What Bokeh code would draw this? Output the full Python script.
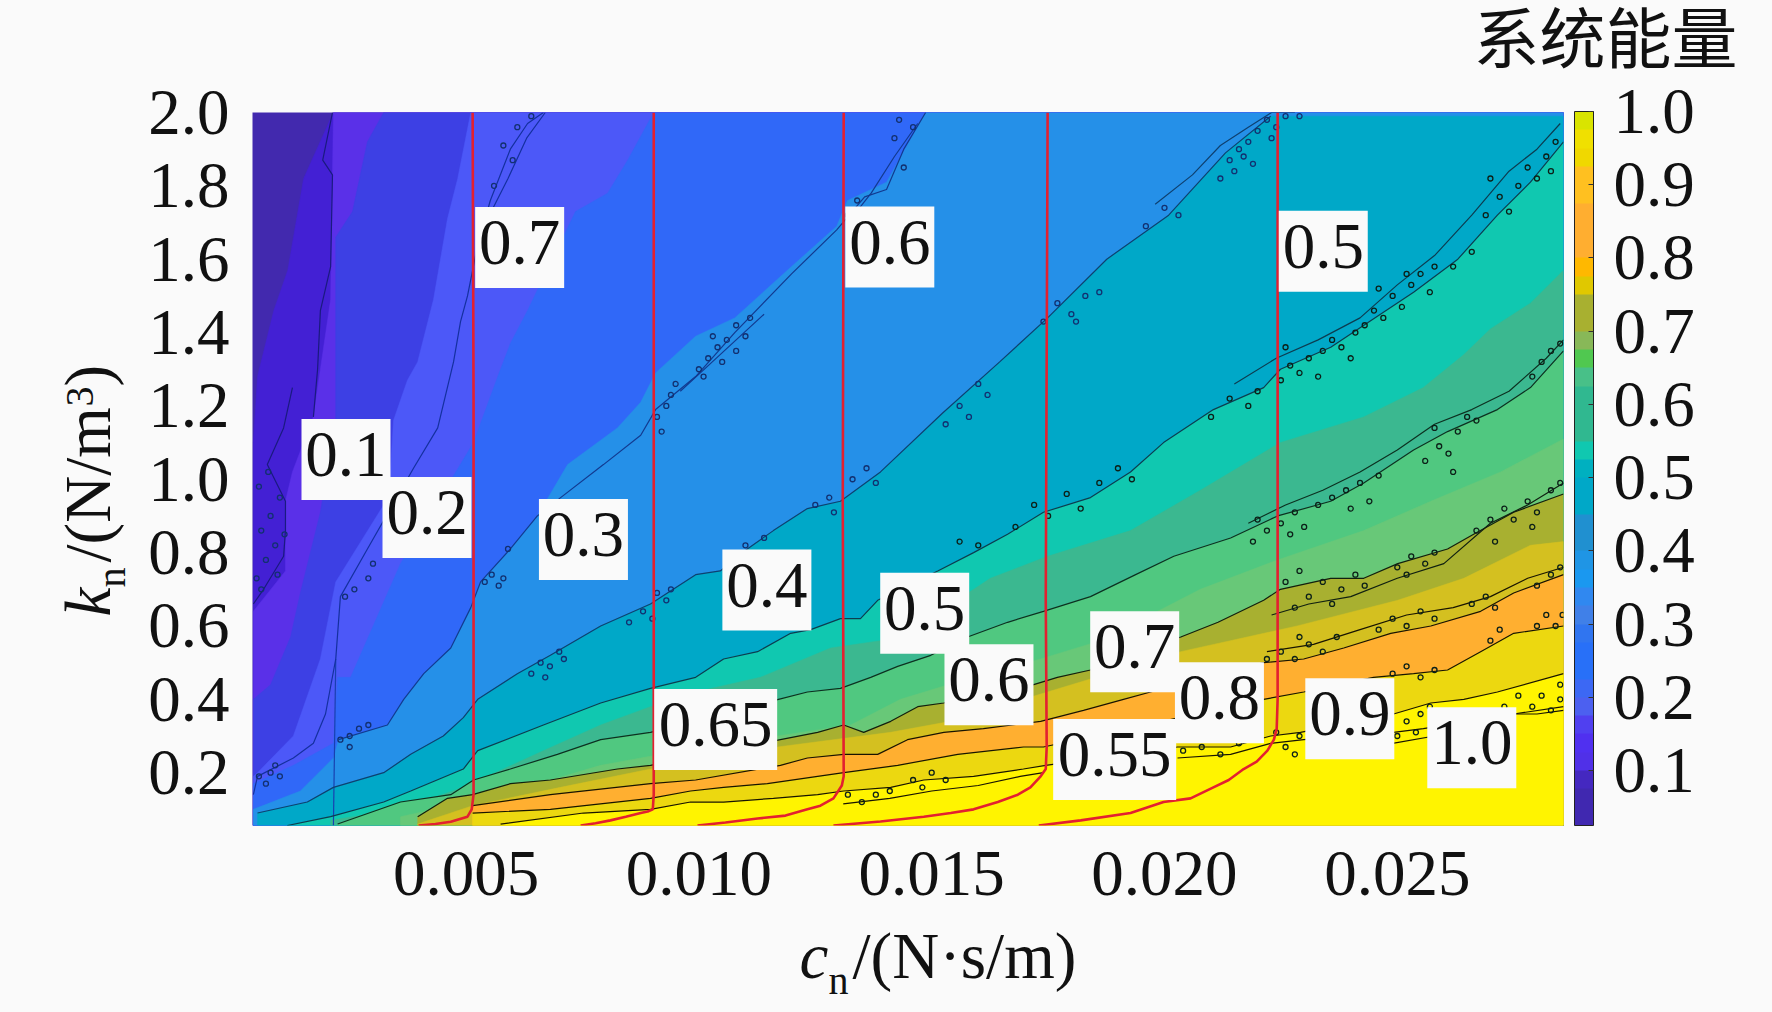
import numpy as np
from bokeh.core.properties import value
from bokeh.embed import file_html
from bokeh.models import ColorBar, FixedTicker, LinearColorMapper, NumeralTickFormatter, Range1d, Title
from bokeh.plotting import figure
from bokeh.resources import INLINE

# all cn values are given in units of 0.001 N*s/m
X_MIN, X_MAX = 0.412, 28.57
Y_MIN, Y_MAX = 0.056, 2.0
x_ticks = [5, 10, 15, 20, 25]
y_ticks = [0.2, 0.4, 0.6, 0.8, 1.0, 1.2, 1.4, 1.6, 1.8, 2.0]
cb_ticks = [0.1, 0.2, 0.3, 0.4, 0.5, 0.6, 0.7, 0.8, 0.9, 1.0]

# colour bar, from 0.025 to 1.0 in steps of 0.025
cb_colors = ["#4028b0", "#4028b0", "#4428c0", "#5030e8", "#5030f0", "#5040f0", "#4c60f0", "#3c68f4",
             "#2870f8", "#2870f8", "#3075f0", "#4080e8", "#3088f0", "#1a98f0", "#1f95e5", "#2090d0",
             "#2090d0", "#00a8c8", "#00a8c8", "#00b0c0", "#10c8b0", "#30b890", "#30b890", "#30b890",
             "#48c088", "#50c850", "#88b858", "#a8b030", "#a8b030", "#e0c800", "#ffb800", "#ffae30",
             "#ffae30", "#ffae30", "#ffc020", "#ffc020", "#f0d800", "#f0e000", "#d9e400"]

# contour lines
c_a1_x = [2.13, 1.92, 2.13, 2.09, 1.87, 1.81, 1.72]
c_a1_y = [2.0, 1.87, 1.83, 1.58, 1.46, 1.30, 1.17]
c_a2_x = [1.27, 1.08, 0.73, 1.12, 1.12, 1.08, 0.65, 0.43]
c_a2_y = [1.25, 1.14, 1.04, 0.94, 0.86, 0.79, 0.70, 0.66]
c_seam_x = [2.20, 2.15]
c_seam_y = [0.51, 0.056]
c_b_x = [0.43, 0.52, 1.29, 1.72, 1.98, 2.20, 2.30, 2.88, 3.87, 4.39, 4.73, 4.88, 5.03, 5.25, 5.52, 5.95, 6.32, 6.66]
c_b_y = [0.14, 0.19, 0.24, 0.28, 0.36, 0.51, 0.68, 0.81, 1.03, 1.14, 1.32, 1.43, 1.50, 1.64, 1.76, 1.90, 1.97, 2.0]
c_c_x = [2.26, 3.31, 3.66, 4.09, 4.67, 5.10, 5.31, 5.95, 6.53, 7.03, 7.95, 8.75, 9.07, 9.93, 10.77, 11.99, 12.96, 13.56, 14.03, 14.40, 14.87]
c_c_y = [0.29, 0.33, 0.40, 0.47, 0.54, 0.65, 0.72, 0.81, 0.90, 0.95, 1.04, 1.12, 1.19, 1.28, 1.40, 1.56, 1.68, 1.77, 1.79, 1.90, 2.0]
c_4_x = [0.52, 1.59, 2.15, 3.23, 3.81, 4.51, 4.94, 5.25, 6.10, 6.81, 7.89, 8.96, 9.93, 10.46, 11.04, 11.60, 12.33, 13.04, 13.90, 15.23, 16.46, 17.49, 18.76, 20.09, 21.31, 22.28]
c_4_y = [0.09, 0.12, 0.16, 0.20, 0.25, 0.30, 0.35, 0.40, 0.47, 0.52, 0.60, 0.66, 0.74, 0.75, 0.81, 0.86, 0.92, 0.94, 1.02, 1.18, 1.32, 1.44, 1.60, 1.72, 1.89, 1.99]
c_5_x = [1.16, 2.09, 3.23, 3.81, 4.94, 5.25, 6.66, 7.89, 8.96, 9.93, 10.53, 11.26, 11.97, 12.40, 13.04, 13.47, 13.84, 15.13, 15.90, 16.63, 17.40, 18.41, 19.27, 19.98, 21.05, 22.13, 22.49, 23.57, 25.35, 26.30, 27.15, 27.86, 28.57]
c_5_y = [0.056, 0.08, 0.12, 0.15, 0.21, 0.26, 0.33, 0.39, 0.43, 0.46, 0.51, 0.53, 0.58, 0.59, 0.62, 0.62, 0.67, 0.75, 0.80, 0.85, 0.91, 0.95, 1.02, 1.10, 1.19, 1.25, 1.30, 1.36, 1.51, 1.60, 1.72, 1.81, 1.92]
c_6_x = [2.24, 3.59, 4.67, 5.16, 5.95, 6.96, 7.89, 8.96, 11.71, 12.33, 13.04, 13.69, 14.27, 14.98, 15.77, 16.63, 17.40, 18.41, 19.38, 20.20, 21.42, 22.43, 23.57, 24.28, 25.35, 26.08, 27.15, 27.86, 28.57]
c_6_y = [0.06, 0.12, 0.14, 0.18, 0.21, 0.25, 0.29, 0.31, 0.40, 0.42, 0.43, 0.46, 0.49, 0.52, 0.57, 0.61, 0.64, 0.68, 0.74, 0.79, 0.84, 0.90, 0.94, 0.99, 1.08, 1.13, 1.19, 1.25, 1.35]
c_7_x = [3.96, 4.60, 5.14, 5.95, 6.81, 8.25, 8.96, 11.75, 12.55, 13.11, 13.54, 14.12, 14.70, 15.26, 17.19, 17.70, 18.41, 20.35, 21.15, 22.13, 22.49, 23.57, 24.28, 25.01, 26.08, 26.64, 27.50, 28.57]
c_7_y = [0.08, 0.13, 0.14, 0.17, 0.18, 0.21, 0.22, 0.29, 0.31, 0.33, 0.31, 0.34, 0.38, 0.39, 0.44, 0.46, 0.48, 0.57, 0.61, 0.67, 0.70, 0.73, 0.73, 0.77, 0.81, 0.85, 0.91, 0.96]
c_8_x = [5.14, 6.81, 8.96, 9.93, 11.75, 12.33, 13.11, 13.84, 14.48, 15.26, 16.11, 17.34, 18.26, 19.12, 19.70, 22.13, 22.99, 23.85, 24.86, 25.72, 26.79, 27.50, 28.57]
c_8_y = [0.11, 0.14, 0.17, 0.18, 0.22, 0.24, 0.25, 0.25, 0.29, 0.31, 0.32, 0.34, 0.37, 0.40, 0.42, 0.50, 0.51, 0.54, 0.58, 0.60, 0.64, 0.69, 0.74]
c_9_x = [5.14, 6.81, 8.96, 9.82, 10.53, 11.47, 12.55, 13.11, 14.27, 15.56, 16.97, 17.40, 22.13, 22.99, 24.49, 25.35, 26.08, 26.79, 27.50, 28.57]
c_9_y = [0.09, 0.10, 0.13, 0.15, 0.16, 0.17, 0.19, 0.20, 0.22, 0.25, 0.27, 0.27, 0.40, 0.42, 0.46, 0.47, 0.48, 0.53, 0.58, 0.60]
c_10_x = [5.74, 7.52, 8.96, 9.82, 10.53, 11.60, 12.55, 13.11, 14.12, 14.83, 15.90, 16.97, 17.45, 20.28, 21.42, 22.28, 22.92, 24.92, 25.72, 26.43, 27.15, 28.57]
c_10_y = [0.06, 0.09, 0.10, 0.12, 0.12, 0.13, 0.14, 0.15, 0.16, 0.18, 0.19, 0.21, 0.22, 0.27, 0.27, 0.30, 0.31, 0.36, 0.39, 0.40, 0.42, 0.47]
c_11_x = [20.28, 21.42, 22.28, 22.99, 24.92, 25.56, 27.50, 28.57]
c_11_y = [0.24, 0.25, 0.28, 0.29, 0.31, 0.32, 0.36, 0.38]

# second strands that run beside the noisy stretches of the contours
s_1_x = [21.5, 22.4, 23.3, 24.2, 25.0, 25.8, 26.6, 27.4, 28.0, 28.5]
s_1_y = [1.26, 1.33, 1.38, 1.44, 1.53, 1.61, 1.72, 1.84, 1.90, 1.97]
s_2_x = [19.8, 20.6, 21.2, 21.8, 22.3, 22.8]
s_2_y = [1.75, 1.83, 1.91, 1.96, 2.0, 2.0]
s_3_x = [21.8, 22.6, 23.4, 24.2, 25.0, 25.8, 26.6, 27.4, 28.2, 28.57]
s_3_y = [0.88, 0.93, 0.97, 1.02, 1.08, 1.15, 1.19, 1.24, 1.33, 1.38]
s_4_x = [22.3, 23.1, 24.0, 25.0, 26.0, 27.0, 27.8, 28.57]
s_4_y = [0.63, 0.66, 0.68, 0.73, 0.77, 0.88, 0.93, 0.99]
s_5_x = [22.2, 23.2, 24.2, 25.2, 26.2, 27.0, 27.8, 28.57]
s_5_y = [0.53, 0.55, 0.59, 0.63, 0.65, 0.68, 0.73, 0.76]
s_6_x = [24.9, 25.8, 26.8, 27.5, 28.0, 28.57]
s_6_y = [0.28, 0.30, 0.34, 0.36, 0.36, 0.37]
s_7_x = [5.5, 5.9, 6.3, 6.7]
s_7_y = [1.72, 1.82, 1.93, 2.0]
s_8_x = [9.6, 10.2, 10.8, 11.4]
s_8_y = [1.24, 1.31, 1.38, 1.45]
s_9_x = [13.2, 13.7, 14.2, 14.7]
s_9_y = [1.70, 1.78, 1.88, 1.97]
s_10_x = [13.1, 14.1, 15.0, 16.0, 16.9, 17.4]
s_10_y = [0.115, 0.13, 0.15, 0.165, 0.19, 0.20]

# boundaries of the colour bands that do not coincide with a contour line
f_1_x = [0.43, 0.52, 0.87, 1.17, 1.51, 2.15]
f_1_y = [1.10, 1.28, 1.46, 1.57, 1.82, 2.0]
f_2_x = [0.43, 1.12, 1.12, 1.27, 1.72, 2.09, 2.15]
f_2_y = [0.64, 0.75, 0.94, 1.02, 1.17, 1.49, 2.0]
f_3_x = [0.43, 0.80, 1.23, 1.44, 1.87, 2.20, 2.20, 2.56, 2.88, 3.23]
f_3_y = [0.40, 0.44, 0.57, 0.69, 0.91, 1.16, 1.66, 1.73, 1.92, 2.0]
f_4_x = [0.43, 0.52, 1.29, 1.87, 2.20, 3.23, 3.38, 3.44, 3.74, 3.96, 4.30, 4.60, 4.82, 5.10]
f_4_y = [0.19, 0.20, 0.30, 0.51, 0.72, 0.93, 1.03, 1.16, 1.27, 1.32, 1.49, 1.71, 1.82, 2.0]
f_5_x = [0.43, 1.29, 2.15, 2.24, 2.52, 3.59, 5.16, 5.68, 5.95, 6.32, 6.66, 7.35, 8.04, 8.47, 9.03]
f_5_y = [0.17, 0.22, 0.28, 0.46, 0.46, 0.77, 1.10, 1.28, 1.37, 1.46, 1.55, 1.73, 1.78, 1.87, 2.0]
f_6_x = [0.43, 1.44, 2.15, 2.26, 3.31, 3.66, 4.09, 4.67, 5.10, 5.31, 5.95, 6.53, 7.18, 8.25, 8.75, 9.07, 9.93, 10.77, 11.99, 12.96, 13.19, 14.03, 14.87]
f_6_y = [0.10, 0.15, 0.24, 0.29, 0.33, 0.40, 0.47, 0.54, 0.65, 0.72, 0.81, 0.90, 1.04, 1.14, 1.21, 1.29, 1.39, 1.44, 1.58, 1.69, 1.76, 1.81, 2.0]
f_9_x = [2.09, 3.59, 4.94, 6.66, 7.89, 8.96, 9.93, 11.32, 12.83, 13.90, 15.19, 16.26, 17.49, 19.27, 20.77, 22.49, 24.28, 25.56, 26.43, 27.00, 27.86, 28.57]
f_9_y = [0.07, 0.10, 0.16, 0.26, 0.33, 0.38, 0.42, 0.46, 0.54, 0.56, 0.64, 0.73, 0.79, 0.86, 0.97, 1.10, 1.17, 1.25, 1.34, 1.41, 1.48, 1.57]
f_11_x = [3.59, 5.74, 7.89, 10.04, 11.69, 13.26, 14.33, 15.62, 17.34, 18.63, 20.77, 22.43, 24.28, 25.72, 27.22, 28.57]
f_11_y = [0.08, 0.14, 0.22, 0.27, 0.30, 0.33, 0.40, 0.45, 0.51, 0.56, 0.70, 0.78, 0.86, 0.94, 1.02, 1.11]
f_13_x = [3.96, 5.14, 7.03, 8.96, 11.69, 14.12, 15.41, 20.35, 22.85, 25.01, 26.43, 27.86, 28.57]
f_13_y = [0.06, 0.11, 0.16, 0.21, 0.27, 0.31, 0.34, 0.53, 0.60, 0.67, 0.73, 0.82, 0.83]

# red curves
r_1_x = [5.14, 5.16, 5.16, 5.16, 5.12, 5.03, 4.67, 4.34, 3.98]
r_1_y = [2.0, 1.21, 0.40, 0.14, 0.10, 0.08, 0.066, 0.06, 0.056]
r_2_x = [9.03, 9.03, 9.03, 9.01, 8.90, 8.75, 8.43, 8.10, 7.78, 7.46]
r_2_y = [2.0, 0.40, 0.14, 0.10, 0.094, 0.09, 0.08, 0.07, 0.062, 0.056]
r_3_x = [13.11, 13.09, 13.11, 13.07, 12.89, 12.61, 12.33, 11.86, 11.26, 10.57, 9.97]
r_3_y = [2.0, 0.94, 0.19, 0.165, 0.13, 0.11, 0.10, 0.083, 0.075, 0.064, 0.056]
r_4_x = [17.49, 17.45, 17.47, 17.45, 17.34, 17.12, 16.85, 16.42, 15.90, 15.41, 14.83, 13.90, 12.89]
r_4_y = [2.0, 0.67, 0.27, 0.21, 0.19, 0.16, 0.14, 0.12, 0.10, 0.09, 0.08, 0.067, 0.056]
r_5_x = [22.43, 22.43, 22.41, 22.35, 22.21, 21.98, 21.70, 21.38, 21.05, 20.56, 19.98, 19.27, 18.20, 17.30]
r_5_y = [2.0, 0.40, 0.32, 0.29, 0.26, 0.23, 0.21, 0.18, 0.16, 0.13, 0.12, 0.09, 0.07, 0.056]

# labels of the energy contours and of the red curves
label_text = ["0.1", "0.2", "0.3", "0.4", "0.5", "0.6", "0.7", "0.8", "0.9", "1.0"]
label_x = [2.42, 4.16, 7.52, 11.46, 14.85, 16.23, 19.36, 21.18, 23.98, 26.60]
label_y = [1.054, 0.896, 0.836, 0.698, 0.635, 0.44, 0.53, 0.391, 0.347, 0.268]
red_short_text = ["0.7", "0.6", "0.5"]
red_short_x = [6.15, 14.10, 23.41]
red_short_y = [1.632, 1.633, 1.622]
red_long_text = ["0.65", "0.55"]
red_long_x = [10.36, 18.93]
red_long_y = [0.318, 0.236]

# speckles of the noisy contours
speck_blue_x = [10.0, 10.2, 10.1, 10.4, 10.5, 10.6, 10.8, 10.8, 11.0, 11.1, 10.3, 14.2, 14.4, 14.3, 14.6, 13.2, 13.4, 13.6,
                9.1, 9.3, 9.4, 9.2, 9.5, 5.8, 6.1, 6.4, 5.6, 6.0, 5.4, 5.55, 5.7, 5.8, 5.9,
                6.4, 6.6, 6.8, 7.0, 7.1, 6.7, 8.5, 8.8, 9.0, 9.3, 9.1, 9.4, 11.1, 11.4, 11.0, 12.5, 12.8, 12.9, 13.3, 13.6, 13.8,
                15.3, 15.6, 15.8, 16.0, 16.2, 17.4, 17.7, 18.0, 18.3, 18.1, 18.6, 19.6, 20.0, 20.3,
                21.2, 21.4, 21.5, 21.7, 21.8, 21.6, 22.0, 22.2, 22.4, 22.3, 22.6, 22.9, 21.9,
                0.5, 0.7, 0.9, 0.6, 0.8, 1.0, 0.55, 0.75, 1.1, 0.95, 0.6, 0.55, 0.8, 1.0, 0.7, 0.9,
                2.3, 2.5, 2.7, 2.9, 2.5, 2.4, 2.6, 2.9, 3.0]
speck_blue_y = [1.30, 1.33, 1.28, 1.36, 1.32, 1.38, 1.35, 1.42, 1.39, 1.44, 1.39, 1.93, 1.85, 1.98, 1.96, 1.72, 1.76, 1.70,
                1.17, 1.20, 1.23, 1.13, 1.26, 1.91, 1.96, 1.99, 1.80, 1.87, 0.72, 0.74, 0.71, 0.73, 0.81,
                0.47, 0.50, 0.49, 0.53, 0.51, 0.46, 0.61, 0.64, 0.62, 0.67, 0.69, 0.70, 0.79, 0.84, 0.82, 0.93, 0.95, 0.91, 1.0, 1.03, 0.99,
                1.15, 1.20, 1.17, 1.26, 1.23, 1.43, 1.48, 1.45, 1.50, 1.43, 1.51, 1.69, 1.74, 1.72,
                1.82, 1.87, 1.84, 1.88, 1.92, 1.90, 1.95, 1.98, 1.96, 1.93, 1.99, 1.99, 1.86,
                0.73, 0.78, 0.82, 0.86, 0.90, 0.95, 0.98, 1.02, 0.85, 0.74, 0.70, 0.19, 0.20, 0.19, 0.17, 0.22,
                0.29, 0.30, 0.32, 0.33, 0.27, 0.68, 0.70, 0.73, 0.77]
speck_dark_x = [22.5, 22.7, 22.9, 23.1, 23.3, 23.4, 23.6, 23.8, 24.0, 22.6, 24.1, 24.3, 24.5, 24.7, 24.9, 25.1, 25.3, 25.5, 25.7, 25.8, 24.6, 25.2,
                26.9, 27.2, 27.4, 27.6, 27.8, 28.0, 28.2, 28.4, 28.3, 26.6, 26.2, 27.0, 21.0, 21.4, 21.8, 22.0,
                15.6, 16.0, 16.8, 17.2, 17.5, 17.9, 18.2, 18.6, 19.0, 19.3,
                22.5, 22.8, 23.0, 23.3, 23.6, 23.9, 24.2, 24.4, 24.6, 24.0, 22.7, 21.9, 22.2, 22.0,
                25.6, 25.9, 26.1, 26.3, 26.5, 25.8, 26.7, 26.2, 28.1, 28.3, 28.5, 27.9,
                22.6, 22.9, 23.1, 23.4, 23.6, 23.8, 24.1, 24.3, 22.8, 25.0, 25.3, 25.6, 25.8, 25.2,
                26.7, 27.0, 27.3, 27.5, 27.8, 28.0, 28.3, 28.5, 27.1, 27.9,
                22.2, 22.5, 22.8, 23.1, 23.4, 23.7, 22.9, 24.6, 24.9, 25.2, 25.5, 25.8, 26.6, 26.9, 27.1, 28.0, 28.3, 28.5,
                24.9, 25.2, 25.5, 25.8, 27.0, 27.2, 28.0, 28.2, 28.4, 28.55,
                20.4, 20.8, 21.2, 21.6, 22.0, 22.4, 22.6, 22.9, 22.8, 25.0, 25.2, 25.4, 25.5, 25.7,
                27.3, 27.6, 27.9, 28.1, 28.3, 28.5, 28.5, 14.6, 15.0, 15.3, 14.8, 13.2, 13.5, 13.8, 14.1]
speck_dark_y = [1.27, 1.31, 1.29, 1.33, 1.28, 1.35, 1.38, 1.36, 1.33, 1.36, 1.40, 1.42, 1.46, 1.44, 1.50, 1.47, 1.53, 1.56, 1.51, 1.58, 1.52, 1.56,
                1.72, 1.77, 1.73, 1.80, 1.85, 1.82, 1.88, 1.92, 1.84, 1.62, 1.58, 1.82, 1.17, 1.22, 1.20, 1.24,
                0.83, 0.82, 0.87, 0.93, 0.90, 0.96, 0.92, 0.99, 1.03, 1.00,
                0.88, 0.91, 0.87, 0.93, 0.95, 0.97, 0.99, 0.94, 1.01, 0.92, 0.85, 0.83, 0.86, 0.89,
                1.05, 1.09, 1.07, 1.13, 1.17, 1.14, 1.16, 1.02, 1.32, 1.35, 1.37, 1.28,
                0.72, 0.75, 0.68, 0.72, 0.66, 0.70, 0.74, 0.71, 0.65, 0.76, 0.79, 0.77, 0.80, 0.74,
                0.86, 0.89, 0.92, 0.89, 0.94, 0.91, 0.97, 0.99, 0.83, 0.87,
                0.51, 0.53, 0.51, 0.55, 0.53, 0.57, 0.57, 0.59, 0.62, 0.60, 0.64, 0.62, 0.66, 0.68, 0.65, 0.71, 0.74, 0.76,
                0.47, 0.49, 0.46, 0.48, 0.56, 0.59, 0.60, 0.63, 0.60, 0.63,
                0.26, 0.27, 0.25, 0.28, 0.29, 0.31, 0.27, 0.30, 0.25, 0.30, 0.34, 0.31, 0.36, 0.38,
                0.38, 0.41, 0.38, 0.41, 0.37, 0.40, 0.44, 0.18, 0.20, 0.18, 0.16, 0.14, 0.12, 0.14, 0.15]

BG = "#fafafa"
SERIF = "Liberation Serif"
TICK_PX = "65px"
H_MAIN = 75   # height bokeh measures for a 65px text (calibrated)
H_SUB = 46    # height bokeh measures for a 40px text (calibrated)
H_CJK = 95    # height bokeh measures for the 66px CJK title (calibrated)

p = figure(width=1764, height=1004, output_backend="svg", toolbar_location=None,
           x_range=Range1d(X_MIN * 1e-3, X_MAX * 1e-3), y_range=Range1d(Y_MIN, Y_MAX),
           min_border_left=252, min_border_right=201, min_border_top=112, min_border_bottom=179,
           background_fill_color="#4229ae", border_fill_color=BG, outline_line_color=None)
p.grid.visible = False


def band(xs, ys, color):
    px = list(xs) + [X_MAX, X_MAX, xs[0]]
    py = list(ys) + [ys[-1], Y_MIN, Y_MIN]
    p.patch(np.array(px) * 1e-3, py, fill_color=color, line_color=color, line_width=0.5)


band(f_1_x, f_1_y, "#4320d4")
band(f_2_x, f_2_y, "#5a30e8")
band(f_3_x, f_3_y, "#3d40e4")
band(f_4_x, f_4_y, "#4c58f8")
band(f_5_x, f_5_y, "#3068f8")
band(f_6_x, f_6_y, "#2590e8")
band(c_4_x, c_4_y, "#00a8c8")
band(c_5_x, c_5_y, "#10c8b0")
band(f_9_x, f_9_y, "#3bb890")
band(c_6_x, c_6_y, "#50c880")
band(f_11_x, f_11_y, "#68c878")
band(c_7_x, c_7_y, "#a8b030")
band(f_13_x, f_13_y, "#d4c020")
band(c_8_x, c_8_y, "#ffaf30")
band(c_9_x, c_9_y, "#ecd810")
band(c_10_x, c_10_y, "#fff400")

for xs, ys, col in [(c_a1_x, c_a1_y, "#1a1a80"), (c_a2_x, c_a2_y, "#1a1a80"), (c_seam_x, c_seam_y, "#1840b0"),
                    (c_b_x, c_b_y, "#1430a0"), (c_c_x, c_c_y, "#123a90"), (c_4_x, c_4_y, "#0e4070"),
                    (c_5_x, c_5_y, "#0c3c50"), (c_6_x, c_6_y, "#0c3020"), (c_7_x, c_7_y, "#102010"),
                    (c_8_x, c_8_y, "#181400"), (c_9_x, c_9_y, "#181400"), (c_10_x, c_10_y, "#181400"),
                    (c_11_x, c_11_y, "#181400"),
                    (s_1_x, s_1_y, "#0c3c50"), (s_2_x, s_2_y, "#0e4070"), (s_3_x, s_3_y, "#0c3020"),
                    (s_4_x, s_4_y, "#102010"), (s_5_x, s_5_y, "#181400"), (s_6_x, s_6_y, "#181400"),
                    (s_7_x, s_7_y, "#1430a0"), (s_8_x, s_8_y, "#123a90"), (s_9_x, s_9_y, "#123a90"),
                    (s_10_x, s_10_y, "#181400")]:
    p.line(np.array(xs) * 1e-3, ys, line_color=col, line_width=1.2)

p.scatter(np.array(speck_blue_x) * 1e-3, speck_blue_y, marker="circle", size=5,
          fill_color=None, line_color="#123070", line_width=1.3)
p.scatter(np.array(speck_dark_x) * 1e-3, speck_dark_y, marker="circle", size=5,
          fill_color=None, line_color="#0c2018", line_width=1.3)

for xs, ys in [(r_1_x, r_1_y), (r_2_x, r_2_y), (r_3_x, r_3_y), (r_4_x, r_4_y), (r_5_x, r_5_y)]:
    p.line(np.array(xs) * 1e-3, ys, line_color="#e32030", line_width=2.6)

for xs, ys, txt, w in [(label_x + red_short_x, label_y + red_short_y, label_text + red_short_text, 89),
                       (red_long_x, red_long_y, red_long_text, 123)]:
    xd = np.array(xs) * 1e-3
    p.rect(xd, ys, width=w, height=81, width_units="screen", height_units="screen",
           fill_color=BG, line_color=None)
    p.text(xd, ys, text=txt, text_align="center", text_baseline="middle", y_offset=-5,
           text_font=value(SERIF), text_font_size=TICK_PX, text_color="#111111")

p.xaxis.ticker = FixedTicker(ticks=[t * 1e-3 for t in x_ticks])
p.xaxis.formatter = NumeralTickFormatter(format="0.000")
p.yaxis.ticker = FixedTicker(ticks=y_ticks)
p.yaxis.formatter = NumeralTickFormatter(format="0.0")
for ax in (p.xaxis, p.yaxis):
    ax.axis_line_color = None
    ax.major_tick_line_color = None
    ax.minor_tick_line_color = None
    ax.major_label_text_font = SERIF
    ax.major_label_text_font_size = TICK_PX
    ax.major_label_text_color = "#111111"
p.xaxis.major_label_standoff = 20
p.yaxis.major_label_standoff = 17

mapper = LinearColorMapper(palette=cb_colors, low=0.025, high=1.0)
cb = ColorBar(color_mapper=mapper, ticker=FixedTicker(ticks=cb_ticks), formatter=NumeralTickFormatter(format="0.0"),
              width=19, height=714, margin=0, padding=0, label_standoff=20, location=(11, 0),
              major_label_text_font=SERIF, major_label_text_font_size=TICK_PX, major_label_text_color="#111111",
              major_tick_line_color="#333333", major_tick_in=5, major_tick_out=0, minor_tick_line_color=None,
              bar_line_color="#222222", bar_line_width=1, background_fill_color=BG, border_line_color=None)
p.add_layout(cb, "right")


# The title pieces (italic letter, subscript, superscript) are stacked side-panel titles that
# take no room of their own, so that they can share one baseline.
def piece(side, text, offset, size=65, style="normal", h=H_MAIN, font=SERIF, vertical_align="bottom"):
    p.add_layout(Title(text=text, text_font=font, text_font_size=f"{size}px", text_font_style=style,
                       text_color="#111111", align="left", offset=offset, standoff=-(h + 2),
                       vertical_align=vertical_align), side)


def gap(side, amount):
    p.add_layout(Title(text="\u00a0", text_font_size="1px", align="left", standoff=amount), side)


gap("below", 53)
piece("below", "c", 547, style="italic")
piece("below", "/(N·s/m)", 600)
gap("below", 22)
piece("below", "n", 576, size=40, h=H_SUB)

gap("left", 33)
piece("left", "n", 238, size=40, h=H_SUB)
gap("left", 21)
piece("left", "k", 209, style="italic")
piece("left", "/(N/m", 263)
piece("left", ")", 439)
gap("left", 14)
piece("left", "3", 419, size=40, h=H_SUB)

gap("above", 74)
piece("above", "系统能量", 1221, size=66, h=H_CJK, font="Noto Sans CJK SC", vertical_align="top")

html = file_html(p, INLINE)
html = html.replace("<head>", "<head><style>html,body{background:#fafafa}</style>", 1)
open("out.html", "w").write(html)
